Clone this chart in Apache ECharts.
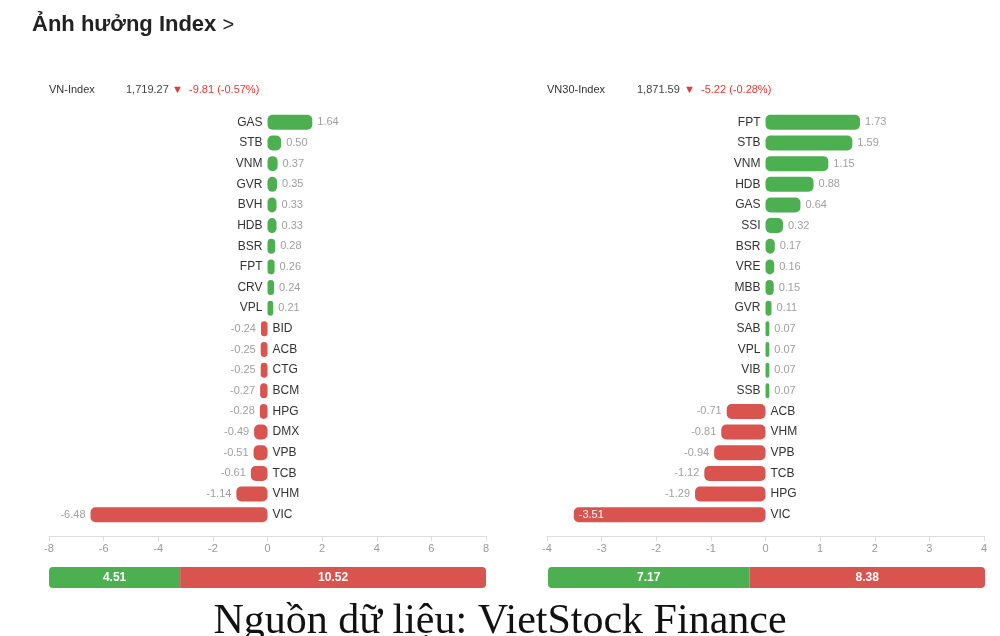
<!DOCTYPE html>
<html>
<head>
<meta charset="utf-8">
<script src="https://cdn.jsdelivr.net/npm/echarts@6/dist/echarts.min.js"></script>
<style>
  html, body { margin: 0; padding: 0; background: #fff; }
  #main { width: 1000px; height: 636px; }
</style>
</head>
<body>
<div id="main"></div>
<script>
// VN-Index
var vnNames = ['GAS', 'STB', 'VNM', 'GVR', 'BVH', 'HDB', 'BSR', 'FPT', 'CRV', 'VPL',
  'BID', 'ACB', 'CTG', 'BCM', 'HPG', 'DMX', 'VPB', 'TCB', 'VHM', 'VIC'];
var vnValues = [1.64, 0.50, 0.37, 0.35, 0.33, 0.33, 0.28, 0.26, 0.24, 0.21,
  -0.24, -0.25, -0.25, -0.27, -0.28, -0.49, -0.51, -0.61, -1.14, -6.48];
var vnTicks = [-8, 8, 2]; // min, max, interval
var vnSum = [4.51, 10.52]; // tang, giam

// VN30-Index
var vn30Names = ['FPT', 'STB', 'VNM', 'HDB', 'GAS', 'SSI', 'BSR', 'VRE', 'MBB', 'GVR',
  'SAB', 'VPL', 'VIB', 'SSB', 'ACB', 'VHM', 'VPB', 'TCB', 'HPG', 'VIC'];
var vn30Values = [1.73, 1.59, 1.15, 0.88, 0.64, 0.32, 0.17, 0.16, 0.15, 0.11,
  0.07, 0.07, 0.07, 0.07, -0.71, -0.81, -0.94, -1.12, -1.29, -3.51];
var vn30Ticks = [-4, 4, 1];
var vn30Sum = [7.17, 8.38];

var GREEN = '#4caf50';
var RED = '#d9534f';
var FONT = 'Liberation Sans, Arial, sans-serif';

var chart = echarts.init(document.getElementById('main'));

// du lieu thanh bar co nhan gia tri
function valueData(values, max) {
  return values.map(function (v) {
    var inside = v < 0 && Math.abs(v) / max > 0.85;
    return {
      value: v,
      itemStyle: { color: v >= 0 ? GREEN : RED },
      label: inside
        ? { position: 'insideLeft', color: '#fff' }
        : { position: v >= 0 ? 'right' : 'left' }
    };
  });
}

// thanh trong suot chi de hien ten ma
function nameData(values) {
  return values.map(function (v) {
    return { value: v, label: { position: v >= 0 ? 'left' : 'right' } };
  });
}

function barGrid(left) {
  return { left: left, width: 437, top: 112, height: 413 };
}

function sumGrid(left) {
  return { left: left, width: 437, top: 567, height: 21 };
}

function valueAxis(idx, ticks) {
  return {
    gridIndex: idx,
    type: 'value',
    min: ticks[0],
    max: ticks[1],
    interval: ticks[2],
    position: 'bottom',
    offset: 11,
    axisLine: { show: true, lineStyle: { color: '#ddd' } },
    axisTick: { show: true, length: 5, lineStyle: { color: '#ddd' } },
    splitLine: { show: false },
    axisLabel: { color: '#999', fontSize: 11, fontFamily: FONT, margin: 7 }
  };
}

function catAxis(idx, names) {
  return {
    gridIndex: idx,
    type: 'category',
    data: names,
    inverse: true,
    axisLine: { show: false },
    axisTick: { show: false },
    axisLabel: { show: false }
  };
}

function sumAxisX(idx, sum) {
  return {
    gridIndex: idx, type: 'value', min: 0, max: sum[0] + sum[1],
    show: false
  };
}

function sumAxisY(idx) {
  return { gridIndex: idx, type: 'category', data: ['sum'], show: false };
}

function barSeries(idx, names, values, max) {
  return [{
    type: 'bar',
    xAxisIndex: idx,
    yAxisIndex: idx,
    data: valueData(values, max),
    barWidth: 15,
    barMinHeight: 3,
    itemStyle: { borderRadius: 5 },
    label: {
      show: true,
      distance: 5,
      color: '#a0a0a0',
      fontSize: 11,
      fontFamily: FONT,
      formatter: function (p) { return p.value.toFixed(2); }
    },
    silent: true
  }, {
    type: 'bar',
    xAxisIndex: idx,
    yAxisIndex: idx,
    barGap: '-100%',
    data: nameData(values),
    barWidth: 15,
    itemStyle: { color: 'rgba(0,0,0,0)' },
    label: {
      show: true,
      distance: 5,
      color: '#333',
      fontSize: 12,
      fontFamily: FONT,
      formatter: '{b}'
    },
    silent: true
  }];
}

function sumSeries(idx, sum) {
  var lbl = { show: true, position: 'inside', color: '#fff', fontSize: 12, fontWeight: 'bold', fontFamily: FONT };
  return [{
    type: 'bar', stack: 's' + idx, xAxisIndex: idx, yAxisIndex: idx,
    barWidth: 21, data: [sum[0]],
    itemStyle: { color: GREEN, borderRadius: [4, 0, 0, 4] },
    label: lbl, silent: true
  }, {
    type: 'bar', stack: 's' + idx, xAxisIndex: idx, yAxisIndex: idx,
    barWidth: 21, data: [sum[1]],
    itemStyle: { color: RED, borderRadius: [0, 4, 4, 0] },
    label: lbl, silent: true
  }];
}

function header(x, name, x2, price, x3, change) {
  return [
    { type: 'text', left: x, top: 84, style: { text: name, fill: '#333', font: '11px ' + FONT } },
    { type: 'text', left: x2, top: 84, style: { text: price, fill: '#444', font: '11px ' + FONT } },
    { type: 'text', left: x3, top: 84, style: { text: change, fill: '#e53935', font: '11px ' + FONT } }
  ];
}

var option = {
  animation: false,
  backgroundColor: '#fff',
  title: [{
    text: 'Ảnh hưởng Index {c|>}',
    left: 32,
    top: 14,
    padding: 0,
    textStyle: {
      fontSize: 22, fontWeight: 'bold', color: '#222', fontFamily: FONT,
      rich: { c: { fontSize: 20, fontWeight: 'normal', color: '#222', fontFamily: FONT } }
    }
  }, {
    text: 'Nguồn dữ liệu: VietStock Finance',
    left: 'center',
    top: 601,
    padding: 0,
    textStyle: { fontSize: 42, fontWeight: 'normal', color: '#111', fontFamily: 'Liberation Serif, Times New Roman, serif' }
  }],
  graphic: [].concat(
    header(49, 'VN-Index', 126, '1,719.27', 172, '▼  -9.81 (-0.57%)'),
    header(547, 'VN30-Index', 637, '1,871.59', 684, '▼  -5.22 (-0.28%)')
  ),
  grid: [barGrid(49), barGrid(547), sumGrid(49), sumGrid(548)],
  xAxis: [valueAxis(0, vnTicks), valueAxis(1, vn30Ticks), sumAxisX(2, vnSum), sumAxisX(3, vn30Sum)],
  yAxis: [catAxis(0, vnNames), catAxis(1, vn30Names), sumAxisY(2), sumAxisY(3)],
  series: [].concat(
    barSeries(0, vnNames, vnValues, vnTicks[1]),
    barSeries(1, vn30Names, vn30Values, vn30Ticks[1]),
    sumSeries(2, vnSum),
    sumSeries(3, vn30Sum)
  )
};

chart.setOption(option);
</script>
</body>
</html>
